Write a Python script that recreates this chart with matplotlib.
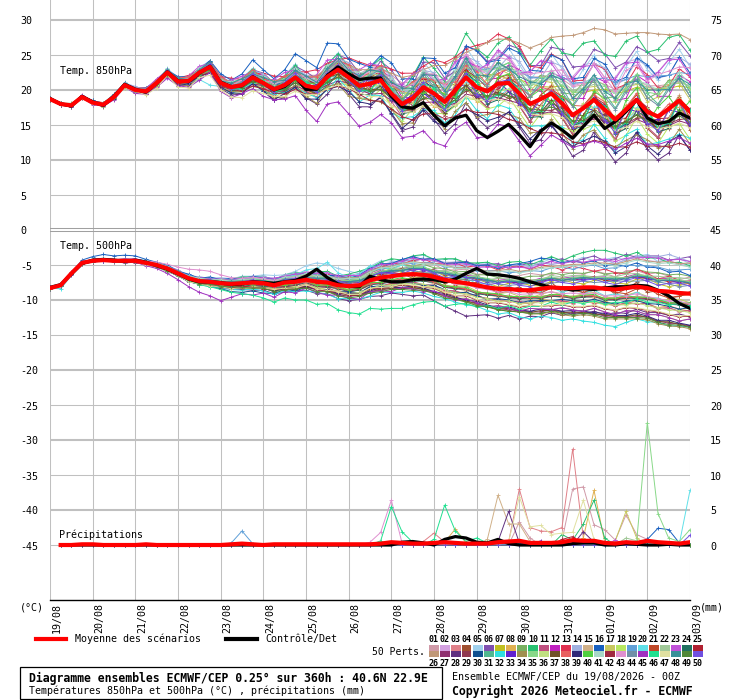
import numpy as np
import matplotlib.pyplot as plt
from matplotlib.lines import Line2D
from matplotlib.patches import Rectangle

plt.rcParams['font.family'] = ['DejaVu Sans Mono', 'DejaVu Sans']

# --- données lues sur le diagramme : pas de 6 h, du 19/08 00Z au 03/09 00Z ---
hours = np.arange(0, 361, 6)
days = ['19/08', '20/08', '21/08', '22/08', '23/08', '24/08', '25/08', '26/08',
        '27/08', '28/08', '29/08', '30/08', '31/08', '01/09', '02/09', '03/09']

t850_mean = [18.7, 18.0, 17.8, 19.0, 18.2, 17.9, 19.0, 20.7, 20.0, 19.8,
             21.0, 22.5, 21.2, 21.3, 22.5, 23.3, 21.0, 20.4, 20.7, 21.8,
             21.0, 20.1, 20.7, 21.8, 20.6, 20.3, 21.9, 22.9, 21.8, 20.6,
             20.9, 21.4, 19.5, 18.0, 18.8, 20.4, 19.5, 18.3, 20.0, 21.8,
             20.4, 19.8, 20.9, 21.0, 19.5, 18.0, 18.7, 19.5, 18.1, 16.4,
             17.4, 18.6, 17.2, 15.8, 17.2, 18.6, 16.9, 16.2, 17.3, 18.5, 16.9]
t850_ctrl = [18.8, 18.0, 17.7, 19.1, 18.3, 17.8, 19.1, 20.8, 20.1, 19.7,
             21.0, 22.6, 21.3, 21.2, 22.4, 23.4, 21.1, 20.5, 20.6, 21.9,
             21.0, 20.0, 20.5, 21.8, 20.1, 20.1, 22.1, 23.3, 22.3, 21.5,
             21.7, 21.7, 19.1, 17.6, 17.4, 18.2, 16.4, 14.9, 16.0, 16.4,
             14.2, 13.2, 14.1, 15.1, 13.6, 11.9, 14.1, 15.3, 14.3, 13.1,
             14.8, 16.4, 14.5, 15.5, 16.9, 18.6, 16.0, 15.2, 15.5, 16.7, 16.0]
t500_mean = [-8.3, -7.9, -6.2, -4.7, -4.4, -4.3, -4.4, -4.4, -4.4, -4.7,
             -5.0, -5.5, -6.2, -6.9, -7.3, -7.4, -7.6, -7.7, -7.6, -7.5,
             -7.6, -7.9, -7.5, -7.4, -7.1, -7.4, -7.5, -7.9, -8.0, -7.9,
             -7.2, -6.8, -6.6, -6.4, -6.3, -6.4, -6.7, -7.1, -7.4, -7.6,
             -7.9, -8.2, -8.4, -8.4, -8.6, -8.6, -8.4, -8.2, -8.3, -8.3,
             -8.2, -8.2, -8.4, -8.5, -8.3, -8.1, -8.3, -8.7, -8.8, -9.0, -9.1]
t500_ctrl = [-8.2, -7.8, -6.3, -4.8, -4.3, -4.2, -4.3, -4.5, -4.3, -4.6,
             -5.1, -5.6, -6.3, -7.0, -7.4, -7.4, -7.5, -7.8, -7.7, -7.4,
             -7.5, -7.6, -7.4, -7.2, -6.6, -5.6, -6.8, -7.7, -8.1, -8.1,
             -6.6, -7.1, -7.4, -7.4, -7.1, -7.0, -7.1, -7.4, -7.0, -6.2,
             -5.5, -6.3, -6.4, -6.6, -6.9, -7.4, -7.8, -8.2, -8.3, -8.6,
             -8.4, -8.5, -8.3, -8.1, -8.1, -7.9, -8.0, -8.6, -9.4, -10.5, -11.2]

# précipitations (mm), à partir de +6h
rr_mean = [0.0, 0.0, 0.1, 0.1, 0.0, 0.0, 0.0, 0.0, 0.1, 0.0,
           0.0, 0.0, 0.0, 0.0, 0.0, 0.0, 0.1, 0.2, 0.1, 0.0,
           0.1, 0.1, 0.1, 0.1, 0.1, 0.1, 0.1, 0.1, 0.1, 0.1,
           0.2, 0.4, 0.3, 0.2, 0.2, 0.3, 0.4, 0.3, 0.2, 0.2,
           0.2, 0.4, 0.5, 0.6, 0.3, 0.3, 0.3, 0.4, 0.7, 0.6,
           0.6, 0.3, 0.2, 0.4, 0.3, 0.6, 0.4, 0.3, 0.2, 0.4]
rr_ctrl = [0.0, 0.0, 0.0, 0.0, 0.0, 0.0, 0.0, 0.0, 0.0, 0.0,
           0.0, 0.0, 0.0, 0.0, 0.0, 0.0, 0.0, 0.0, 0.0, 0.0,
           0.0, 0.0, 0.0, 0.0, 0.0, 0.0, 0.0, 0.0, 0.0, 0.0,
           0.0, 0.0, 0.4, 0.5, 0.3, 0.0, 0.8, 1.2, 1.0, 0.4,
           0.3, 0.8, 0.2, 0.0, 0.0, 0.0, 0.0, 0.0, 0.2, 0.3,
           0.3, 0.0, 0.0, 0.2, 0.1, 0.0, 0.0, 0.1, 0.0, 0.0]

# pluies des perturbations : membre -> {pas de 6h: mm}, 0 ailleurs
rr_members = {
    1: {44: 3.3, 45: 1.0, 48: 0.6, 49: 8.0, 50: 8.3, 51: 2.9, 52: 2.2, 53: 0.7, 54: 4.3, 55: 1.5, 56: 0.8},
    3: {35: 0.5, 36: 1.7, 37: 0.4, 43: 0.5, 44: 8.0, 45: 2.5, 46: 2.0, 47: 1.9, 48: 2.5, 49: 13.7, 50: 1.0},
    6: {56: 0.9},
    8: {37: 0.4, 38: 2.3, 39: 0.3, 50: 1.0, 51: 7.8, 52: 0.5},
    10: {48: 1.5, 49: 0.7, 50: 3.0, 51: 6.4, 52: 1.0},
    12: {52: 0.5},
    15: {41: 0.8, 42: 7.1, 43: 3.0, 44: 3.0, 45: 0.5},
    16: {56: 0.8, 57: 2.4, 58: 2.2, 59: 0.3},
    17: {53: 0.6, 54: 4.8, 55: 1.0},
    19: {17: 0.3, 18: 2.0, 19: 0.2},
    20: {59: 0.2, 60: 7.8},
    22: {54: 1.0, 55: 0.6},
    23: {53: 0.7},
    25: {48: 0.8, 49: 1.2},
    28: {42: 0.5, 43: 4.8, 44: 0.3, 50: 1.9, 51: 0.4},
    33: {46: 0.6},
    35: {55: 0.5, 56: 17.5, 57: 4.5, 58: 1.0, 59: 0.5, 60: 2.2},
    40: {41: 0.4},
    43: {30: 0.4, 31: 1.8, 32: 6.4, 33: 0.3},
    46: {31: 0.6, 32: 5.5, 33: 1.9, 34: 0.4, 36: 0.8, 37: 5.7, 38: 2.0, 39: 0.5, 40: 1.0, 41: 0.3},
    47: {43: 0.5, 44: 6.9, 45: 2.6, 46: 2.8, 47: 1.5, 48: 1.7, 49: 1.8, 50: 6.4, 51: 0.8, 52: 0.3},
    50: {60: 1.4},
}

member_colors = ['#d09aa8', '#d4a0e0', '#e08088', '#a05030', '#a0d0ec', '#8050b0', '#c0c020', '#e0b050', '#78b060', '#28c070',
                 '#c05080', '#c020c0', '#e03050', '#a0b0e0', '#d0b088', '#1860c0', '#c8c860', '#b8e860', '#60a0d8', '#60e0e8',
                 '#c04828', '#a0c898', '#c050d8', '#207060', '#b02030',
                 '#c09878', '#903070', '#603080', '#903850', '#105090', '#50b890', '#30e0e0', '#6020d0', '#a09050', '#88d888',
                 '#c0e080', '#705028', '#e86060', '#302878', '#50d040', '#a8d8c8', '#a02840', '#e090d0', '#7090a8', '#a030c0',
                 '#20e090', '#e0e0a0', '#389098', '#508838', '#7050e0']

# écart de chaque perturbation (01..50) à la moyenne, en °C
t850_offsets = """
0.1 0.0 -0.1 0.2 0.1 0.0 0.2 0.3 0.2 0.1 | 0.4 0.3 0.2 0.5 0.4 0.2 0.6 0.8 0.5 0.9 | 1.1 0.7 1.2 0.9 1.5 1.8 1.2 1.6 2.1 1.7 | 2.2 1.8 2.6 3.0 2.4 1.9 2.8 3.3 2.6 2.0 | 2.9 3.4 2.7 2.2 3.1 3.8 3.2 2.6 3.5 4.1 | 3.3 2.8 3.6 4.3 3.4 2.9 3.7 4.4 3.5 2.8 3.6
0.0 0.1 0.1 -0.1 0.2 0.1 0.3 0.2 0.4 0.3 | 0.2 0.5 0.3 0.6 0.4 0.7 0.5 0.9 1.2 0.8 | 0.6 1.0 1.4 1.1 0.7 1.3 1.9 1.5 0.9 1.6 | 2.3 1.9 1.4 2.6 3.3 2.7 2.1 3.0 3.8 3.2 | 2.6 3.7 4.5 3.9 3.2 4.6 5.4 4.7 4.0 5.5 | 6.2 5.3 4.6 6.0 6.8 5.8 5.0 6.4 7.1 6.2 5.5
-0.1 0.0 0.1 0.0 -0.2 -0.1 0.0 -0.3 -0.1 0.1 | -0.2 -0.4 0.0 -0.3 -0.5 -0.2 -0.6 -0.3 0.1 -0.4 | -0.7 -0.2 -0.9 -0.5 0.2 -0.6 -1.1 -0.4 0.3 -0.8 | -1.3 -0.5 0.4 -0.9 -1.6 -0.7 0.2 -1.2 -2.0 -0.9 | 0.1 -1.4 -2.2 -1.0 0.3 -1.6 -2.4 -1.1 0.2 -1.8 | -2.5 -1.2 0.0 -1.9 -2.7 -1.4 -0.3 -2.1 -2.9 -1.6 -0.5
0.2 0.1 0.0 0.1 0.0 0.2 -0.1 0.1 0.3 0.0 | -0.2 0.1 -0.3 0.2 0.0 -0.4 0.3 -0.5 0.1 -0.6 | 0.2 -0.8 -0.2 0.4 -1.0 -0.3 0.5 -1.2 -0.4 0.6 | -1.5 -0.6 0.8 -0.9 -1.8 0.5 -0.7 -2.0 -0.2 0.9 | -1.4 -2.3 -0.5 0.7 -1.8 -2.6 -0.8 0.4 -2.1 -2.8 | -1.0 0.2 -2.2 -3.0 -1.3 0.1 -2.4 -3.1 -1.5 -0.2 -2.6
0.0 -0.1 0.0 0.2 0.1 -0.1 0.1 0.4 0.2 0.0 | 0.3 0.6 0.4 0.2 0.7 0.9 0.5 0.3 1.0 1.3 | 0.8 0.5 1.4 1.9 1.2 0.8 1.7 2.4 1.6 1.1 | 2.2 3.0 2.1 1.5 2.8 3.6 2.7 2.0 3.3 4.3 | 3.4 2.6 4.0 5.0 4.1 3.3 4.8 5.7 4.9 4.0 | 5.6 6.4 5.5 4.7 6.1 6.9 6.0 5.2 6.6 7.3 6.4
0.1 0.2 0.0 0.1 0.3 0.1 0.2 0.0 0.3 0.2 | 0.5 0.2 0.6 0.4 0.1 0.7 1.0 0.6 0.3 1.1 | 1.4 0.9 0.5 1.6 2.0 1.3 0.8 2.1 2.6 1.8 | 1.2 2.7 3.4 2.5 1.9 3.6 4.4 3.4 2.7 4.5 | 5.3 4.3 3.6 5.4 6.4 5.5 4.8 6.6 7.7 6.9 | 6.0 7.2 8.0 7.4 6.8 7.6 8.5 8.0 7.2 8.3 8.0
-0.1 0.1 0.2 0.0 0.1 0.3 0.1 -0.1 0.2 0.4 | 0.1 -0.2 0.3 0.5 0.0 -0.3 0.4 0.7 0.2 -0.4 | 0.5 0.9 0.1 -0.6 0.6 1.1 0.3 -0.8 0.8 1.4 | 0.4 -1.0 1.0 1.7 0.6 -0.7 1.3 2.0 0.9 -0.2 | 1.6 2.4 1.3 0.5 2.0 2.9 1.8 0.9 2.5 3.3 | 2.2 1.4 2.9 3.7 2.6 1.8 3.2 4.0 2.9 2.1 3.4
0.0 0.0 -0.1 -0.2 0.0 0.1 -0.1 -0.2 -0.4 -0.1 | 0.0 -0.3 -0.5 -0.2 0.1 -0.4 -0.7 -0.3 0.0 -0.6 | -0.9 -0.4 0.1 -0.7 -1.1 -0.5 0.2 -0.9 -1.4 -0.6 | 0.1 -1.1 -1.7 -0.8 0.3 -1.3 -1.9 -0.9 0.2 -1.5 | -2.1 -1.0 0.4 -1.2 -1.8 -0.6 0.5 -1.4 -2.0 -0.8 | 0.6 -1.1 -1.7 -0.5 0.7 -1.3 -1.9 -0.7 0.4 -1.0 -1.6
0.2 0.1 0.3 0.1 0.0 0.2 0.4 0.1 0.0 0.3 | 0.5 0.2 0.0 0.4 0.6 0.3 0.1 0.7 0.9 0.4 | 0.2 1.0 1.3 0.7 0.3 1.2 1.6 0.9 0.4 1.5 | 2.0 1.2 0.6 1.8 2.4 1.5 0.8 2.1 2.7 1.7 | 1.0 2.4 3.1 2.0 1.2 2.7 3.4 2.3 1.5 3.0 | 3.6 2.5 1.7 3.2 3.9 2.8 1.9 3.4 4.1 3.0 2.2
0.0 0.1 0.2 0.1 -0.1 0.0 0.2 0.3 0.1 0.0 | 0.3 0.5 0.2 0.1 0.5 0.8 0.4 0.2 0.9 1.2 | 0.7 0.4 1.3 1.7 1.0 0.6 1.8 2.3 1.5 1.0 | 2.4 3.1 2.2 1.6 3.2 4.3 3.6 2.9 4.8 6.3 | 5.5 4.9 5.8 6.6 6.0 5.5 6.9 7.8 7.2 8.6 | 9.3 8.4 7.8 9.0 9.8 9.1 8.5 9.6 10.2 9.4 8.8
-0.2 -0.1 0.0 0.1 -0.1 -0.3 0.0 0.2 -0.2 -0.4 | 0.1 0.3 -0.3 -0.5 0.2 0.4 -0.4 -0.7 0.3 0.6 | -0.6 -1.0 0.2 0.8 -0.8 -1.3 0.1 1.0 -1.0 -1.6 | 0.0 1.2 -1.1 -1.8 -0.2 1.0 -1.3 -2.0 -0.4 0.8 | -1.5 -2.3 -0.6 0.5 -1.7 -2.5 -0.8 0.3 -1.9 -2.6 | -1.0 0.2 -2.1 -2.8 -1.2 0.0 -2.2 -2.9 -1.3 -0.1 -2.0
0.1 0.0 0.1 0.3 0.2 0.0 -0.1 0.2 0.4 0.1 | -0.1 0.3 0.6 0.2 -0.2 0.5 0.8 0.3 -0.3 0.7 | 1.1 0.4 -0.4 0.9 1.4 0.5 -0.5 1.2 1.8 0.7 | -0.3 1.5 2.2 1.0 0.0 1.9 2.6 1.3 0.4 2.3 | 3.0 1.7 0.8 2.6 3.4 2.1 1.1 3.0 3.7 2.4 | 1.4 3.3 4.0 2.7 1.6 3.5 4.2 2.9 1.8 3.6 4.3
0.0 0.2 0.1 0.0 0.2 0.3 0.1 0.0 0.3 0.5 | 0.2 0.1 0.5 0.8 0.4 0.2 0.9 1.3 0.8 0.5 | 1.4 1.9 1.2 0.8 2.0 2.6 1.9 1.4 2.8 3.4 | 2.6 2.0 3.5 4.4 3.6 3.0 4.8 5.6 4.7 4.1 | 6.0 7.0 7.1 6.3 6.8 5.4 4.5 5.6 6.2 4.9 | 4.0 5.1 5.8 4.4 3.6 4.7 5.3 4.1 3.3 4.5 5.0
0.1 0.0 0.0 0.2 0.3 0.1 0.0 0.3 0.5 0.2 | 0.1 0.4 0.7 0.3 0.1 0.6 0.9 0.5 0.2 1.0 | 1.3 0.7 0.3 1.2 1.6 1.0 0.5 1.6 2.1 1.4 | 0.8 1.9 2.5 1.7 1.1 2.4 3.0 2.1 1.5 3.0 | 3.7 2.9 2.2 3.8 4.6 3.7 3.0 4.5 5.3 4.4 | 3.7 5.2 6.0 5.0 4.3 5.8 6.5 5.5 4.8 6.2 6.8
-0.1 0.0 0.0 -0.1 0.1 0.0 -0.2 -0.1 0.1 -0.2 | -0.3 0.0 -0.1 -0.4 0.1 0.2 -0.5 -0.2 0.3 -0.4 | -0.6 0.2 0.4 -0.7 -0.3 0.5 -0.8 -1.2 0.3 -0.5 | -1.0 0.6 -0.4 -1.5 0.2 0.8 -1.2 -1.8 0.4 0.9 | -1.0 -1.6 0.3 1.0 -0.8 -1.4 0.5 1.2 -0.9 -1.8 | 0.2 1.1 -1.0 -1.9 0.0 1.0 -1.2 -2.0 -0.2 0.8 -1.1
0.1 0.2 0.0 0.1 0.3 0.2 0.4 0.3 0.2 0.5 | 0.4 0.3 0.7 0.6 0.4 0.9 1.3 1.0 1.6 2.5 | 1.9 1.5 2.2 3.4 3.6 2.9 4.8 3.7 2.6 3.2 | 2.4 3.5 4.4 3.6 2.8 4.2 5.0 4.1 3.2 4.5 | 5.2 4.1 3.4 5.0 5.8 4.8 4.0 5.5 6.2 5.2 | 4.4 5.9 6.5 5.4 4.6 6.0 6.7 5.6 4.8 6.2 5.5
0.0 -0.1 0.1 0.0 -0.2 -0.1 0.1 0.0 -0.2 0.0 | 0.2 0.0 -0.3 0.1 0.3 -0.1 -0.4 0.2 0.5 0.0 | -0.5 0.3 0.7 0.1 -0.4 0.5 0.9 0.3 -0.3 0.8 | 1.2 0.5 -0.2 1.0 1.5 0.7 0.0 1.3 1.9 1.0 | 0.2 1.6 2.2 1.3 0.5 1.9 2.6 1.6 0.8 2.2 | 2.9 1.9 1.1 2.5 3.2 2.2 1.4 2.8 3.5 2.5 1.7
0.0 0.0 -0.2 -0.1 0.0 -0.3 -0.2 0.0 -0.4 -0.3 | -0.1 -0.5 -0.4 -0.1 -0.6 -0.8 -0.3 -0.9 -1.1 -0.5 | -1.0 -1.3 -0.7 -1.2 -1.6 -0.9 -1.5 -1.9 -1.1 -1.7 | -2.2 -1.3 -1.9 -2.5 -1.5 -2.1 -2.8 -1.7 -2.3 -3.0 | -1.8 -2.5 -3.2 -2.0 -2.7 -3.4 -2.1 -2.9 -3.5 -2.2 | -3.0 -3.6 -2.4 -3.1 -3.7 -2.5 -3.2 -3.8 -2.6 -3.3 -3.9
0.1 0.1 0.0 -0.1 0.1 0.2 0.0 -0.2 0.1 0.3 | 0.0 -0.3 0.2 0.4 0.1 -0.4 0.3 0.6 0.2 -0.3 | 0.5 0.8 0.3 -0.2 0.7 1.1 0.6 0.1 1.0 1.5 | 0.9 0.4 1.4 2.0 1.3 0.7 1.9 2.6 1.8 1.2 | 2.5 3.2 2.4 1.7 3.1 3.9 3.0 2.3 3.8 4.6 | 3.7 3.0 4.5 5.3 4.3 3.5 5.0 5.8 4.8 4.0 5.4
0.0 0.1 0.0 -0.1 0.0 0.1 -0.1 -0.2 0.0 0.1 | -0.2 -0.4 -0.3 -0.6 -1.0 -2.6 -0.5 -0.2 -0.6 -0.3 | 0.1 -0.5 -0.8 -0.2 0.3 -0.6 -1.0 -0.4 0.2 -0.8 | -1.2 -0.5 0.3 -0.9 -1.5 -0.6 0.4 -1.1 -1.7 -0.7 | 0.2 -1.3 -1.9 -0.8 0.3 -1.5 -2.0 -0.9 0.4 -1.6 | -2.2 -1.0 0.3 -1.7 -2.3 -1.1 0.1 -1.8 -2.4 -1.2 0.0
-0.1 -0.2 0.0 0.1 -0.1 -0.2 0.1 0.2 0.0 -0.2 | 0.2 0.3 -0.1 -0.3 0.3 0.5 0.0 -0.4 0.4 0.7 | 0.1 -0.5 0.6 0.9 0.2 -0.6 0.8 1.1 0.3 -0.7 | 0.9 1.3 0.2 -0.9 1.0 1.4 0.1 -1.1 0.9 1.3 | 0.0 -1.2 0.8 1.2 -0.2 -1.4 0.6 1.0 -0.4 -1.6 | 0.4 0.9 -0.6 -1.8 0.2 0.7 -0.8 -2.0 0.0 0.5 -1.0
0.0 0.1 0.2 0.0 0.1 0.2 0.3 0.1 0.2 0.4 | 0.3 0.1 0.4 0.6 0.3 0.2 0.6 0.8 0.5 0.3 | 0.9 1.1 0.7 0.4 1.2 1.5 1.0 0.6 1.5 1.9 | 1.3 0.8 1.8 2.3 1.6 1.1 2.2 2.7 2.0 1.4 | 2.5 3.0 2.3 1.7 2.8 3.3 2.6 2.0 3.1 3.6 | 2.9 2.2 3.3 3.8 3.1 2.4 3.5 4.0 3.2 2.6 3.7
0.2 0.1 0.0 0.2 0.1 0.0 0.3 0.2 0.1 0.4 | 0.6 0.3 0.2 0.7 0.9 0.5 0.3 1.0 1.3 0.8 | 0.5 1.4 1.8 1.1 0.7 1.9 2.4 1.5 1.0 2.3 | 2.9 2.0 1.4 2.8 3.5 2.5 1.8 3.3 4.1 3.0 | 2.3 3.9 4.8 3.6 2.9 4.6 5.5 4.3 3.5 5.2 | 6.0 4.9 4.1 5.8 6.6 5.4 4.6 6.3 7.0 5.9 5.1
0.0 -0.1 -0.1 0.0 0.1 -0.1 -0.2 0.0 0.1 -0.2 | -0.3 0.0 0.1 -0.3 -0.5 -0.1 0.0 -0.5 -0.7 -0.2 | 0.0 -0.7 -1.0 -0.4 -0.1 -0.9 -1.3 -0.6 -0.2 -1.2 | -1.6 -0.8 -0.3 -1.4 -1.9 -1.0 -0.4 -1.6 -2.1 -1.1 | -0.5 -1.8 -2.3 -1.3 -0.6 -1.9 -2.5 -1.4 -0.7 -2.0 | -2.6 -1.5 -0.8 -2.1 -2.7 -1.6 -0.9 -2.2 -2.8 -1.7 -1.0
0.1 0.0 0.1 0.2 0.0 0.1 0.0 0.2 0.3 0.1 | 0.0 0.3 0.4 0.1 -0.1 0.4 0.6 0.2 -0.2 0.5 | 0.8 0.3 -0.3 0.7 1.0 0.4 -0.5 0.9 1.3 0.5 | -0.6 1.1 1.5 0.6 -0.7 1.2 1.7 0.7 -0.8 1.0 | 1.4 0.5 -0.9 0.8 1.2 0.3 -1.0 0.6 1.0 0.1 | -1.1 0.4 0.8 -0.1 -1.2 0.2 0.6 -0.3 -1.3 0.0 0.4
0.0 0.0 0.1 0.1 0.0 0.2 0.1 0.0 0.2 0.3 | 0.1 0.0 0.4 0.5 0.2 0.1 0.6 0.8 0.5 0.3 | 0.9 1.2 0.8 0.5 1.3 1.7 1.2 0.8 1.8 2.3 | 2.0 1.6 2.9 3.8 3.3 2.5 4.0 5.2 4.4 3.6 | 5.6 7.0 6.4 6.2 7.2 8.0 7.9 8.0 9.6 11.4 | 10.8 10.2 11.4 12.2 10.9 9.6 11.3 11.8 10.6 9.5 10.3
-0.1 0.0 -0.1 -0.2 -0.1 0.0 -0.2 -0.3 -0.1 0.0 | -0.3 -0.5 -0.2 0.0 -0.4 -0.6 -0.3 -0.1 -0.7 -0.9 | -0.4 -0.2 -0.9 -1.2 -0.6 -0.3 -1.2 -1.6 -0.8 -0.4 | -1.5 -1.9 -1.0 -0.5 -1.7 -2.2 -1.2 -0.6 -1.9 -2.4 | -1.3 -0.7 -2.0 -2.5 -1.4 -0.8 -2.1 -2.6 -1.5 -0.9 | -2.2 -2.7 -1.6 -1.0 -2.3 -2.8 -1.7 -1.1 -2.4 -2.9 -1.8
0.0 -0.1 -0.2 0.0 -0.1 -0.2 -0.3 -0.1 -0.2 -0.4 | -0.5 -0.2 -0.4 -0.7 -0.8 -0.4 -0.8 -1.1 -1.3 -0.7 | -1.2 -1.6 -1.8 -1.1 -1.7 -2.3 -2.5 -1.6 -2.4 -3.0 | -3.3 -2.3 -3.0 -3.8 -4.1 -3.0 -3.7 -4.5 -4.8 -3.6 | -4.4 -5.2 -5.4 -4.1 -4.8 -5.6 -5.8 -4.4 -5.1 -5.9 | -6.0 -4.6 -5.3 -6.1 -6.2 -4.8 -5.4 -6.2 -6.3 -4.9 -5.5
0.1 0.0 0.0 -0.1 0.0 0.1 0.0 -0.1 0.1 0.2 | 0.0 -0.2 0.1 0.3 -0.1 -0.3 0.2 0.5 -0.2 -0.5 | 0.3 0.6 -0.4 -0.8 0.4 0.8 -0.6 -1.1 0.5 0.9 | -0.8 -1.4 0.3 0.7 -1.0 -1.7 0.1 0.5 -1.2 -2.0 | -0.1 0.3 -1.4 -2.2 -0.3 0.1 -1.6 -2.4 -0.5 -0.1 | -1.8 -2.5 -0.7 -0.3 -2.0 -2.6 -0.9 -0.5 -2.1 -2.7 -1.0
0.0 0.1 0.0 0.0 0.2 0.1 -0.1 0.0 0.2 0.0 | -0.2 0.1 0.3 -0.1 -0.3 0.2 0.4 -0.2 -0.4 0.3 | 0.5 -0.3 -0.6 0.4 0.6 -0.4 -0.8 0.5 0.7 -0.6 | -1.0 0.6 0.8 -0.8 -1.2 0.7 0.9 -1.0 -1.4 0.6 | 0.8 -1.2 -1.6 0.5 0.7 -1.4 -1.8 0.4 0.6 -1.5 | -1.9 0.3 0.5 -1.6 -2.0 0.2 0.4 -1.7 -2.1 0.1 0.3
0.1 0.2 0.1 0.0 0.1 0.2 0.1 0.3 0.1 0.0 | 0.2 0.4 0.2 0.0 0.4 0.6 0.3 0.1 0.6 0.9 | 0.5 0.2 0.9 1.2 0.7 0.3 1.1 1.5 0.9 0.4 | 1.4 1.9 1.2 0.6 1.7 2.2 1.4 0.8 2.0 2.6 | 1.7 1.0 2.3 2.9 2.0 1.2 2.5 3.1 2.2 1.4 | 2.7 3.3 2.4 1.6 2.9 3.5 2.6 1.8 3.1 3.7 2.8
0.0 0.0 -0.1 0.0 -0.1 -0.2 0.0 -0.2 -0.3 -0.1 | -0.3 -0.5 -0.2 -0.4 -0.7 -0.4 -0.6 -0.9 -0.5 -0.8 | -1.2 -0.7 -1.1 -1.5 -1.0 -1.4 -1.9 -1.2 -1.8 -2.3 | -1.6 -2.2 -2.8 -2.0 -2.6 -3.2 -2.4 -3.0 -3.6 -2.7 | -3.3 -3.9 -3.0 -3.6 -4.2 -3.2 -3.8 -4.4 -3.4 -4.0 | -4.5 -3.5 -4.1 -4.6 -3.6 -4.2 -4.7 -3.7 -4.3 -4.8 -3.8
0.1 0.0 0.0 0.1 -0.1 0.0 0.2 0.0 -0.1 0.1 | 0.3 0.0 -0.2 0.2 0.4 -0.1 -0.3 0.3 0.5 -0.2 | -0.4 0.4 0.6 -0.3 -0.6 0.5 0.7 -0.4 -0.8 0.4 | 0.6 -0.6 -1.0 0.3 0.5 -0.8 -1.2 0.2 0.4 -1.0 | -1.4 0.1 0.3 -1.2 -1.6 0.0 0.2 -1.4 -1.8 -0.1 | 0.1 -1.5 -1.9 -0.2 0.0 -1.6 -2.0 -0.3 -0.1 -1.7 -2.1
0.0 -0.1 0.0 -0.2 -0.1 0.0 -0.2 -0.4 -0.1 -0.3 | -0.5 -0.2 -0.4 -0.7 -0.4 -0.6 -1.0 -0.6 -0.9 -1.3 | -0.8 -1.2 -1.7 -1.1 -1.5 -2.2 -1.4 -2.0 -2.7 -1.8 | -2.4 -3.1 -2.2 -2.8 -3.5 -2.6 -3.2 -3.9 -3.0 -3.6 | -4.2 -3.3 -3.9 -4.5 -3.5 -4.1 -4.7 -3.7 -4.2 -4.8 | -3.8 -4.3 -4.9 -3.9 -4.4 -5.0 -4.0 -4.5 -5.1 -4.1 -4.6
0.0 0.1 0.0 0.1 0.2 0.0 0.1 0.2 0.0 0.1 | 0.3 0.1 0.2 0.4 0.2 0.3 0.6 0.3 0.5 0.8 | 0.4 0.6 1.0 0.6 0.8 1.3 0.8 1.1 1.6 1.0 | 1.3 1.9 1.2 1.6 2.2 1.4 1.8 2.5 1.6 2.0 | 2.7 1.8 2.2 2.9 2.0 2.4 3.1 2.2 2.6 3.3 | 2.4 2.8 3.5 2.6 3.0 3.7 2.8 3.2 3.9 3.0 3.4
-0.1 0.0 0.1 -0.1 0.0 0.1 -0.1 0.1 0.2 -0.1 | 0.1 0.3 -0.1 0.2 0.4 -0.2 0.1 0.5 -0.3 -0.1 | 0.5 -0.4 -0.2 0.6 -0.5 -0.3 0.7 -0.6 -0.4 0.8 | -0.7 -0.5 0.9 -0.8 -0.6 1.0 -0.9 -0.7 1.1 -1.0 | -0.8 1.0 -1.1 -0.9 0.9 -1.2 -1.0 0.8 -1.3 -1.1 | 0.7 -1.4 -1.2 0.6 -1.5 -1.3 0.5 -1.6 -1.4 0.4 -1.5
0.0 0.0 0.1 0.0 0.0 -0.1 0.1 0.0 0.0 -0.2 | 0.1 0.0 -0.2 -0.3 0.0 -0.2 -0.4 0.1 -0.3 -0.5 | 0.0 -0.4 -0.7 -0.1 -0.5 -0.9 -0.2 -0.6 -1.1 -0.3 | -0.8 -1.3 -0.4 -0.9 -1.5 -0.5 -1.0 -1.6 -0.6 -1.1 | -1.7 -0.7 -1.2 -1.8 -0.8 -1.3 -1.9 -0.9 -1.4 -2.0 | -1.0 -1.5 -2.1 -1.1 -1.6 -2.2 -1.2 -1.7 -2.3 -1.3 -1.8
0.1 0.1 0.0 0.2 0.1 0.1 0.3 0.2 0.1 0.3 | 0.4 0.2 0.5 0.6 0.3 0.7 0.9 0.5 0.8 1.1 | 0.6 1.0 1.3 0.7 1.2 1.6 0.9 1.4 1.8 1.0 | 1.6 2.1 1.2 1.8 2.4 1.3 1.9 2.5 1.2 1.7 | 2.2 1.0 1.5 2.0 0.8 1.2 1.7 0.5 0.9 1.4 | 0.3 0.7 1.1 0.0 0.4 0.9 -0.2 0.2 0.7 -0.4 0.0
-0.1 0.0 -0.1 -0.2 0.0 -0.1 -0.3 -0.1 -0.2 -0.4 | -0.2 -0.3 -0.6 -0.4 -0.5 -0.9 -0.6 -0.8 -1.2 -0.9 | -1.1 -1.5 -1.2 -1.4 -1.9 -1.6 -1.8 -2.4 -2.0 -2.3 | -2.9 -2.5 -2.8 -3.5 -3.0 -3.3 -4.0 -3.5 -3.8 -4.5 | -3.9 -4.2 -4.8 -4.2 -4.5 -5.0 -4.3 -4.6 -5.1 -4.4 | -4.7 -5.2 -4.5 -4.8 -5.3 -4.6 -4.9 -5.4 -4.7 -5.0 -5.5
0.0 0.1 0.1 0.0 0.1 0.0 0.0 0.1 -0.1 0.0 | 0.2 -0.1 0.1 0.3 -0.2 0.0 0.4 -0.3 0.1 0.5 | -0.4 0.2 0.6 -0.5 0.3 0.7 -0.6 0.4 0.8 -0.7 | 0.5 0.9 -0.8 0.6 1.0 -0.9 0.7 1.1 -1.0 0.8 | 1.2 -1.1 0.9 1.3 -1.2 1.0 1.4 -1.3 1.1 1.5 | -1.4 1.2 1.6 -1.5 1.3 1.7 -1.6 1.4 1.8 -1.7 1.5
0.1 0.0 0.1 0.1 0.0 0.2 0.1 0.1 0.3 0.2 | 0.1 0.4 0.3 0.2 0.6 0.5 0.3 0.8 0.7 0.4 | 1.0 0.9 0.5 1.3 1.1 0.7 1.6 1.4 0.9 1.9 | 1.7 1.1 2.2 2.0 1.3 2.5 2.2 1.5 2.8 2.5 | 1.7 3.0 2.7 1.9 3.2 2.9 2.1 3.4 3.1 2.3 | 3.6 3.3 2.5 3.8 3.5 2.7 4.0 3.7 2.9 4.1 3.8
0.0 -0.1 0.0 -0.1 -0.2 0.0 -0.1 -0.3 -0.2 0.0 | -0.3 -0.5 -0.3 -0.1 -0.5 -0.8 -0.5 -0.3 -0.9 -1.2 | -0.8 -0.5 -1.3 -1.7 -1.2 -0.8 -1.8 -2.3 -1.6 -1.2 | -2.4 -3.0 -2.2 -1.8 -3.1 -3.8 -2.9 -2.4 -3.8 -4.6 | -3.6 -3.0 -4.4 -5.2 -4.1 -3.5 -4.8 -5.6 -4.5 -3.8 | -5.1 -5.8 -4.7 -4.0 -5.3 -6.0 -4.9 -4.2 -5.4 -6.1 -5.0
0.0 0.1 0.0 0.2 0.1 0.0 0.2 0.1 0.0 0.3 | 0.2 0.1 0.4 0.3 0.2 0.5 0.4 0.3 0.7 0.5 | 0.4 0.9 0.7 0.5 1.2 1.0 0.7 1.5 1.3 1.0 | 1.9 1.6 1.3 2.3 2.0 1.7 2.8 2.4 2.0 3.3 | 2.9 2.4 3.8 3.3 2.8 4.3 3.8 3.2 4.8 4.2 | 3.6 5.2 4.6 4.0 5.6 5.0 4.4 6.0 5.4 4.8 6.3
-0.1 0.0 0.0 0.1 0.0 -0.1 0.1 0.2 0.0 -0.1 | 0.2 0.3 0.0 -0.2 0.3 0.5 0.1 -0.2 0.5 0.7 | 0.2 -0.1 0.7 1.0 0.4 0.0 0.9 1.3 0.6 0.2 | 1.2 1.6 0.8 0.4 1.5 1.9 1.0 0.6 1.7 2.2 | 1.2 0.8 1.9 2.4 1.4 1.0 2.1 2.6 1.6 1.2 | 2.3 2.8 1.8 1.4 2.5 3.0 2.0 1.6 2.7 3.1 2.2
0.0 -0.1 -0.2 -0.1 -0.3 -0.2 -0.4 -0.3 -0.5 -0.4 | -0.6 -0.8 -0.6 -0.9 -1.1 -0.8 -1.2 -1.5 -1.2 -1.6 | -1.9 -1.5 -2.0 -2.6 -3.5 -4.8 -3.9 -4.6 -5.2 -5.8 | -5.5 -4.9 -4.2 -4.8 -5.4 -6.2 -7.0 -6.3 -5.6 -6.4 | -7.2 -6.5 -5.8 -6.2 -6.8 -7.4 -6.6 -5.9 -5.4 -4.6 | -5.2 -5.9 -5.0 -4.3 -4.8 -5.5 -4.6 -4.0 -4.6 -5.3 -4.5
0.1 0.0 -0.1 0.0 0.1 0.0 -0.1 0.0 0.1 -0.1 | -0.2 0.1 0.2 -0.2 -0.3 0.2 0.3 -0.3 -0.5 0.2 | 0.4 -0.4 -0.6 0.3 0.5 -0.5 -0.8 0.4 0.6 -0.7 | -1.0 0.4 0.7 -0.9 -1.2 0.5 0.8 -1.0 -1.4 0.4 | 0.7 -1.2 -1.6 0.3 0.6 -1.3 -1.7 0.2 0.5 -1.4 | -1.8 0.1 0.4 -1.5 -1.9 0.0 0.3 -1.6 -2.0 -0.1 0.2
0.0 0.0 0.1 -0.1 -0.2 0.0 -0.2 -0.4 -0.2 -0.5 | -0.7 -0.4 -0.8 -1.0 -0.7 -1.2 -1.0 -1.4 -1.8 -1.9 | -1.5 -1.0 -1.6 -2.0 -1.3 -0.9 -1.7 -2.2 -1.5 -1.0 | -1.8 -2.4 -1.6 -1.1 -2.0 -2.6 -1.7 -1.2 -2.1 -2.7 | -1.8 -1.3 -2.2 -2.8 -1.9 -1.4 -2.3 -2.9 -2.0 -1.5 | -2.4 -3.0 -2.1 -1.6 -2.5 -3.1 -2.2 -1.7 -2.6 -3.2 -2.3
0.0 0.1 0.1 0.2 0.0 0.1 0.2 0.0 0.2 0.3 | 0.1 0.3 0.5 0.2 0.4 0.7 0.3 0.6 0.9 0.5 | 0.8 1.1 0.7 1.0 1.4 0.8 1.2 1.7 1.0 1.4 | 2.0 1.2 1.6 2.3 1.4 1.8 2.6 1.6 2.0 2.8 | 1.8 2.2 3.0 2.0 2.4 3.2 2.2 2.6 3.4 2.4 | 2.8 3.6 2.6 3.0 3.7 2.7 3.1 3.8 2.8 3.2 3.9
0.0 0.0 -0.1 0.0 0.1 0.0 -0.1 -0.2 0.0 0.1 | -0.1 -0.3 -0.1 0.1 -0.2 -0.4 -0.2 0.0 -0.4 -0.6 | -0.3 -0.1 -0.6 -0.8 -0.4 -0.2 -0.8 -1.1 -0.6 -0.3 | -1.0 -1.3 -0.7 -0.4 -1.2 -1.5 -0.9 -0.5 -1.4 -1.7 | -1.0 -0.6 -1.5 -1.8 -1.1 -0.7 -1.6 -1.9 -1.2 -0.8 | -1.7 -2.0 -1.3 -0.9 -1.8 -2.1 -1.4 -1.0 -1.9 -2.2 -1.5
0.1 0.0 0.0 0.1 0.1 -0.1 0.0 0.2 0.1 -0.1 | 0.1 0.3 0.0 -0.2 0.2 0.4 -0.1 -0.3 0.3 0.5 | -0.2 -0.4 0.4 0.6 -0.3 -0.6 0.5 0.7 -0.4 -0.8 | 0.5 0.8 -0.6 -1.0 0.4 0.7 -0.8 -1.2 0.3 0.6 | -1.0 -1.4 0.2 0.5 -1.2 -1.6 0.1 0.4 -1.4 -1.8 | 0.0 0.3 -1.5 -1.9 -0.1 0.2 -1.6 -2.0 -0.2 0.1 -1.7
"""

t500_offsets = """
0.1 0.0 0.1 0.2 0.1 0.0 0.1 0.2 0.1 0.0 | 0.2 0.3 0.1 0.4 0.3 0.5 0.4 0.6 0.5 0.3 | 0.6 0.8 0.5 0.7 0.9 0.6 1.0 1.2 0.9 1.1 | 1.3 1.0 1.4 1.6 1.2 1.5 1.8 1.4 1.7 2.0 | 1.6 1.9 2.2 1.8 2.1 2.4 2.0 1.8 2.3 2.1 | 1.9 2.4 2.2 1.8 2.5 2.3 2.0 2.6 2.2 1.9 2.4
0.0 0.1 0.0 -0.1 0.1 0.2 0.0 0.1 0.2 0.3 | 0.1 0.3 0.5 0.2 0.6 0.4 0.7 0.5 0.9 0.6 | 1.0 0.7 1.1 0.8 1.3 0.9 1.2 1.5 1.1 1.4 | 1.8 1.4 1.9 2.2 1.7 2.3 2.6 2.1 2.7 3.0 | 2.5 3.1 3.4 2.9 3.5 3.2 3.8 3.3 3.6 4.0 | 3.5 3.9 4.3 3.7 4.1 4.5 3.9 4.2 4.6 4.0 4.4
-0.1 0.0 0.0 -0.2 0.0 -0.1 -0.2 0.0 -0.1 -0.3 | -0.2 -0.4 -0.2 -0.5 -0.3 -0.6 -0.4 -0.7 -0.5 -0.3 | -0.6 -0.8 -0.5 -0.9 -0.6 -1.0 -0.7 -1.1 -0.8 -1.2 | -0.9 -1.3 -1.0 -1.4 -1.1 -1.5 -1.2 -1.6 -1.3 -1.7 | -1.4 -1.8 -1.5 -1.9 -1.6 -2.0 -1.7 -2.1 -1.8 -2.2 | -1.9 -2.3 -2.0 -2.4 -2.1 -2.5 -2.2 -2.6 -2.3 -2.7 -2.4
0.1 0.2 0.0 0.1 -0.1 0.0 0.1 -0.1 0.0 0.2 | 0.0 -0.2 0.1 -0.3 0.0 0.2 -0.2 0.1 -0.4 -0.1 | 0.2 -0.3 0.0 0.4 -0.2 0.1 -0.5 -0.1 0.3 -0.4 | 0.0 0.5 -0.3 0.2 -0.6 -0.2 0.4 -0.5 0.1 0.6 | -0.4 0.2 -0.7 -0.3 0.5 -0.6 0.0 0.7 -0.5 0.1 | -0.8 -0.4 0.4 -0.7 -0.1 0.6 -0.6 0.0 -0.9 -0.5 0.3
0.0 0.1 0.1 0.0 0.2 0.1 0.2 0.3 0.2 0.4 | 0.3 0.5 0.4 0.3 0.6 0.5 0.8 0.7 1.0 0.9 | 1.2 1.4 1.1 1.5 2.0 2.7 2.6 2.4 2.1 1.7 | 2.0 2.4 2.2 1.8 2.5 2.8 2.4 2.9 3.2 2.7 | 3.1 3.5 3.0 3.4 3.8 3.3 3.7 4.1 3.6 3.9 | 4.3 3.8 4.2 4.6 4.0 4.4 4.8 4.2 4.5 4.9 4.3
0.1 0.0 0.2 0.1 0.0 0.2 0.1 0.3 0.2 0.1 | 0.3 0.2 0.4 0.3 0.5 0.4 0.3 0.6 0.5 0.7 | 0.6 0.9 0.8 0.6 1.0 0.9 1.2 1.0 1.4 1.3 | 1.6 1.4 1.8 2.1 1.9 2.3 2.6 2.4 2.8 3.1 | 2.9 3.3 3.6 3.2 3.5 3.9 3.4 3.8 4.2 3.7 | 4.1 4.5 4.0 4.4 4.8 4.2 4.6 5.0 4.5 4.9 5.3
-0.1 0.0 0.1 0.0 -0.1 0.1 0.0 -0.2 0.0 0.1 | -0.1 0.1 -0.2 0.2 0.0 -0.3 0.1 0.3 -0.1 0.2 | 0.4 0.1 -0.2 0.3 0.5 0.2 -0.1 0.4 0.6 0.3 | 0.0 0.5 0.8 0.4 0.1 0.6 0.9 0.5 0.2 0.7 | 1.0 0.6 0.3 0.8 1.1 0.7 0.4 0.9 1.2 0.8 | 0.5 1.0 1.3 0.9 0.6 1.1 1.4 1.0 0.7 1.2 1.5
0.0 -0.1 0.0 0.1 0.0 -0.1 0.0 -0.2 -0.1 0.0 | -0.2 -0.3 -0.1 -0.2 -0.4 -0.3 -0.5 -0.4 -0.2 -0.5 | -0.7 -0.6 -0.4 -0.8 -0.6 -0.9 -1.1 -0.8 -1.0 -1.2 | -0.9 -1.3 -1.1 -1.5 -1.2 -1.6 -1.4 -1.8 -1.5 -1.3 | -1.7 -1.5 -1.9 -1.6 -2.0 -1.8 -1.5 -1.9 -2.1 -1.7 | -2.0 -2.2 -1.8 -2.1 -2.3 -1.9 -2.2 -2.4 -2.0 -2.3 -2.5
0.1 0.1 0.0 0.1 0.2 0.1 0.0 0.2 0.1 0.3 | 0.2 0.1 0.3 0.4 0.2 0.5 0.3 0.6 0.4 0.7 | 0.5 0.8 0.6 0.9 0.7 1.0 0.8 1.1 0.9 1.2 | 1.0 1.3 1.1 1.4 1.2 1.5 1.3 1.6 1.4 1.7 | 1.5 1.8 1.6 1.9 1.7 2.0 1.8 2.1 1.9 2.2 | 2.0 2.3 2.1 2.4 2.2 2.5 2.3 2.6 2.4 2.7 2.5
0.0 0.1 0.0 0.0 0.1 0.2 0.1 0.0 0.2 0.3 | 0.2 0.4 0.3 0.5 0.4 0.6 0.5 0.7 0.9 0.8 | 1.0 0.8 1.1 1.3 1.0 1.4 1.6 1.3 1.7 2.0 | 1.8 2.2 2.5 2.1 2.6 2.9 2.5 3.0 3.3 2.9 | 3.2 3.6 3.3 3.8 4.1 3.6 4.0 4.4 3.9 4.6 | 5.0 5.3 5.5 5.2 4.6 4.9 4.3 4.7 4.1 4.4 4.0
-0.1 0.0 -0.1 0.0 0.1 -0.1 0.0 0.1 -0.1 -0.2 | 0.0 -0.1 -0.3 -0.1 -0.2 -0.4 -0.2 -0.5 -0.3 -0.6 | -0.4 -0.7 -0.5 -0.8 -0.6 -0.9 -0.7 -1.0 -0.8 -1.1 | -0.9 -1.2 -1.0 -1.3 -1.1 -1.4 -1.2 -1.5 -1.3 -1.6 | -1.4 -1.7 -1.5 -1.8 -1.6 -1.9 -1.7 -2.0 -1.8 -2.1 | -1.9 -2.2 -2.0 -2.3 -2.1 -2.4 -2.2 -2.5 -2.3 -2.6 -2.4
0.1 0.0 0.1 0.1 0.0 0.2 0.1 0.0 0.2 0.1 | 0.3 0.1 0.2 0.4 0.2 0.3 0.5 0.3 0.4 0.6 | 0.4 0.5 0.7 0.5 0.6 0.8 0.6 0.7 0.9 0.7 | 0.8 1.0 0.8 0.9 1.1 0.9 1.0 1.2 1.0 1.1 | 1.3 1.1 1.2 1.4 1.2 1.3 1.5 1.3 1.4 1.6 | 1.4 1.5 1.7 1.5 1.6 1.8 1.6 1.7 1.9 1.7 1.8
0.0 0.1 0.1 0.0 0.1 0.0 0.2 0.1 0.0 0.2 | 0.1 0.3 0.2 0.0 0.3 0.4 0.2 0.5 0.3 0.6 | 0.8 0.5 0.9 0.7 1.0 0.8 1.2 0.9 1.3 1.5 | 1.2 1.6 1.9 1.5 2.0 2.3 1.9 2.4 2.7 2.3 | 2.8 3.1 2.7 3.2 3.5 3.0 3.4 3.0 2.6 3.1 | 2.7 2.3 2.8 2.4 2.0 2.5 2.1 1.7 2.2 1.8 1.4
0.0 0.0 0.1 0.2 0.1 0.0 0.1 0.2 0.3 0.2 | 0.4 0.3 0.5 0.4 0.6 0.5 0.7 0.8 0.6 0.9 | 1.0 0.8 1.1 1.2 1.0 1.3 1.4 1.2 1.5 1.7 | 1.5 1.8 2.0 1.8 2.1 2.4 2.2 2.5 2.8 2.6 | 2.9 3.2 3.0 3.3 3.6 3.4 3.7 3.3 3.6 3.9 | 3.5 3.8 4.1 3.7 4.0 4.3 4.6 4.9 5.3 5.0 4.6
-0.1 0.0 0.0 -0.1 0.0 0.1 -0.1 0.0 -0.2 -0.1 | 0.0 -0.2 -0.1 -0.3 -0.2 0.0 -0.3 -0.1 -0.4 -0.2 | -0.5 -0.3 -0.1 -0.4 -0.6 -0.3 -0.5 -0.7 -0.4 -0.6 | -0.8 -0.5 -0.7 -0.9 -0.6 -0.8 -1.0 -0.7 -0.9 -1.1 | -0.8 -1.0 -1.2 -0.9 -1.1 -1.3 -1.0 -1.2 -1.4 -1.1 | -1.3 -1.5 -1.2 -1.4 -1.6 -1.3 -1.5 -1.7 -1.4 -1.6 -1.8
0.1 0.2 0.1 0.4 0.6 0.8 0.7 0.8 0.7 0.5 | 0.4 0.5 0.3 0.6 0.4 0.7 0.5 0.8 0.6 0.9 | 0.7 1.0 0.8 1.1 0.9 1.2 1.0 1.4 1.1 1.5 | 1.7 2.0 1.8 2.2 2.5 2.2 2.6 2.3 2.7 3.0 | 2.8 3.2 2.9 3.4 3.8 4.1 4.4 4.0 3.6 3.9 | 3.5 3.8 3.3 3.6 3.1 3.4 3.0 3.3 2.8 3.1 2.6
0.0 -0.1 0.0 0.1 0.0 -0.1 0.0 0.1 0.0 -0.2 | 0.0 0.1 -0.1 -0.3 -0.1 0.0 -0.2 -0.4 -0.2 0.0 | -0.3 -0.5 -0.2 0.0 -0.4 -0.6 -0.3 -0.1 -0.5 -0.7 | -0.4 -0.2 -0.6 -0.8 -0.5 -0.3 -0.7 -0.9 -0.6 -0.4 | -0.8 -1.0 -0.7 -0.5 -0.9 -1.1 -0.8 -0.6 -1.0 -1.2 | -0.9 -0.7 -1.1 -1.3 -1.0 -0.8 -1.2 -1.4 -1.1 -0.9 -1.3
0.0 0.0 -0.1 -0.1 0.0 -0.2 -0.1 -0.3 -0.2 -0.1 | -0.3 -0.4 -0.2 -0.5 -0.3 -0.6 -0.8 -0.5 -0.7 -0.9 | -0.6 -0.8 -1.0 -0.7 -0.9 -1.1 -1.3 -1.0 -1.2 -1.4 | -1.1 -1.3 -1.6 -1.4 -1.8 -2.1 -1.7 -2.0 -2.4 -2.1 | -2.5 -2.8 -2.4 -2.7 -3.0 -2.6 -2.9 -3.2 -2.8 -3.1 | -3.4 -3.0 -3.3 -3.6 -3.2 -3.5 -3.8 -3.4 -3.7 -4.0 -3.6
0.1 0.1 0.0 0.1 0.2 0.1 0.0 0.1 0.2 0.1 | 0.3 0.2 0.1 0.4 0.3 0.5 0.4 0.6 0.5 0.7 | 0.6 0.8 0.7 0.9 0.8 1.0 0.9 1.1 1.0 1.2 | 1.4 1.2 1.5 1.7 1.5 1.8 2.0 1.8 2.1 2.3 | 2.1 2.4 2.6 2.3 2.6 2.8 2.5 2.8 3.0 2.7 | 3.0 3.2 2.9 3.1 3.3 3.0 3.2 3.4 3.1 3.3 3.5
0.0 0.0 0.1 -0.1 0.0 0.1 0.0 -0.1 0.0 0.1 | -0.1 0.0 0.2 0.1 -0.1 0.2 0.4 0.3 0.5 0.4 | 0.6 0.5 0.8 1.0 1.4 1.9 2.9 1.8 1.2 1.6 | 2.1 1.5 1.0 1.4 0.8 1.2 0.6 1.0 0.4 0.8 | 0.2 0.6 0.0 0.4 -0.2 0.2 -0.4 0.0 -0.6 -0.2 | -0.8 -0.4 -1.0 -0.6 -1.2 -0.8 -1.4 -1.0 -1.6 -1.2 -1.8
-0.1 0.0 0.1 0.0 -0.1 0.0 0.1 0.2 0.0 -0.1 | 0.1 0.2 0.0 -0.2 0.0 0.3 0.1 -0.1 0.2 0.4 | 0.1 -0.2 0.3 0.5 0.2 -0.3 0.1 0.4 0.6 0.2 | -0.2 0.3 0.6 0.1 -0.3 0.2 0.5 0.0 -0.4 0.1 | 0.4 -0.1 -0.5 0.0 0.3 -0.2 -0.6 -0.1 0.2 -0.3 | -0.7 -0.2 0.1 -0.4 -0.8 -0.3 0.0 -0.5 -0.9 -0.4 -0.1
0.0 0.1 0.0 0.1 0.2 0.0 0.1 0.2 0.1 0.3 | 0.2 0.0 0.3 0.2 0.4 0.3 0.1 0.5 0.4 0.6 | 0.5 0.3 0.7 0.6 0.8 0.7 0.5 0.9 0.8 1.0 | 0.9 0.7 1.1 1.0 1.2 1.1 0.9 1.3 1.2 1.4 | 1.3 1.1 1.5 1.4 1.6 1.5 1.3 1.7 1.6 1.8 | 1.7 1.5 1.9 1.8 2.0 1.9 1.7 2.1 2.0 2.2 2.1
0.1 0.0 0.1 0.2 0.1 0.0 0.2 0.1 0.3 0.2 | 0.1 0.3 0.4 0.2 0.5 0.4 0.6 0.5 0.7 0.6 | 0.8 1.0 0.9 1.1 1.0 1.2 1.4 1.3 1.5 1.4 | 1.6 1.9 1.7 2.0 2.3 2.1 2.4 2.2 2.5 2.8 | 2.6 2.9 3.2 3.0 3.3 3.1 3.4 3.7 3.5 3.8 | 3.6 3.9 4.2 4.0 4.3 4.1 4.4 4.7 4.5 4.8 4.6
0.0 -0.1 0.0 0.0 0.1 0.0 -0.1 0.0 0.1 0.0 | -0.2 -0.1 0.0 -0.3 -0.2 -0.1 -0.4 -0.3 -0.2 -0.5 | -0.4 -0.3 -0.6 -0.5 -0.4 -0.7 -0.6 -0.5 -0.8 -0.7 | -0.6 -0.9 -0.8 -0.7 -1.0 -0.9 -0.8 -1.1 -1.0 -0.9 | -1.2 -1.1 -1.0 -1.3 -1.2 -1.1 -1.4 -1.3 -1.2 -1.5 | -1.4 -1.3 -1.6 -1.5 -1.4 -1.7 -1.6 -1.5 -1.8 -1.7 -1.6
0.1 0.0 0.0 0.1 0.0 0.1 0.2 0.0 0.1 0.0 | 0.2 0.1 0.3 0.2 0.0 0.3 0.1 0.4 0.2 0.0 | 0.3 0.5 0.2 0.4 0.6 0.3 0.5 0.7 0.4 0.6 | 0.8 0.5 0.7 0.9 0.6 0.8 1.0 0.7 0.9 1.1 | 0.8 1.0 1.2 0.9 1.1 1.3 1.0 1.2 1.4 1.1 | 1.3 1.5 1.2 1.4 1.6 1.3 1.5 1.7 1.4 1.6 1.8
0.0 0.0 0.1 0.0 0.1 0.0 0.1 0.2 0.1 0.0 | 0.2 0.1 0.3 0.2 0.4 0.3 0.5 0.4 0.3 0.6 | 0.5 0.7 0.6 0.8 0.7 0.9 0.8 1.0 1.2 1.1 | 1.3 1.5 1.4 1.6 1.8 1.7 1.9 2.1 2.0 2.2 | 2.4 2.3 2.6 2.8 2.7 2.9 3.1 3.0 3.2 3.4 | 3.3 3.5 3.7 3.6 3.8 4.0 3.9 4.1 4.3 4.2 4.4
-0.1 0.0 -0.1 -0.2 -0.1 0.0 -0.2 -0.1 -0.3 -0.2 | -0.1 -0.3 -0.4 -0.2 -0.5 -0.4 -0.6 -0.5 -0.7 -0.6 | -0.8 -0.7 -0.9 -1.1 -1.0 -1.2 -1.1 -1.3 -1.5 -1.4 | -1.6 -1.8 -1.7 -1.9 -2.1 -2.0 -2.2 -2.4 -2.3 -2.5 | -2.7 -2.6 -2.8 -3.0 -2.9 -3.1 -3.3 -3.2 -3.4 -3.6 | -3.5 -3.7 -3.9 -3.8 -4.0 -4.2 -4.1 -4.3 -4.5 -4.4 -4.6
0.0 -0.1 0.0 -0.1 -0.2 -0.1 0.0 -0.2 -0.1 -0.3 | -0.2 -0.4 -0.3 -0.5 -0.4 -0.6 -0.8 -0.7 -0.9 -1.1 | -1.0 -1.2 -1.4 -1.3 -1.5 -1.7 -1.6 -1.9 -2.1 -2.0 | -2.3 -2.6 -2.4 -2.8 -3.1 -2.9 -3.4 -3.8 -4.2 -4.7 | -4.3 -3.9 -4.2 -3.8 -4.1 -3.7 -4.0 -3.6 -3.9 -3.5 | -3.8 -3.4 -3.7 -3.3 -3.6 -3.2 -3.5 -3.1 -3.4 -3.0 -3.3
0.1 0.0 0.0 -0.1 0.0 0.1 0.0 -0.1 0.0 0.1 | -0.1 0.0 0.1 -0.2 -0.1 0.0 -0.3 -0.2 -0.1 -0.4 | -0.3 -0.2 -0.5 -0.4 -0.3 -0.6 -0.5 -0.4 -0.7 -0.6 | -0.5 -0.8 -0.7 -0.6 -0.9 -0.8 -0.7 -1.0 -0.9 -0.8 | -1.1 -1.0 -0.9 -1.2 -1.1 -1.0 -1.3 -1.2 -1.1 -1.4 | -1.3 -1.2 -1.5 -1.4 -1.3 -1.6 -1.5 -1.4 -1.7 -1.6 -1.5
0.0 0.1 0.0 0.0 0.1 0.0 -0.1 0.0 0.1 -0.1 | -0.2 -0.1 -0.3 -0.5 -0.4 -0.6 -0.8 -1.1 -1.3 -1.2 | -1.4 -1.2 -1.0 -1.3 -1.1 -0.9 -1.2 -1.0 -0.8 -1.1 | -0.9 -1.2 -1.4 -1.1 -1.3 -1.5 -1.2 -1.4 -1.6 -1.3 | -1.5 -1.7 -1.4 -1.6 -1.8 -1.5 -1.7 -1.9 -1.6 -1.8 | -2.0 -1.7 -1.9 -2.1 -1.8 -2.0 -2.2 -1.9 -2.1 -2.3 -2.0
0.1 0.1 0.0 0.1 0.0 0.1 0.2 0.1 0.0 0.2 | 0.1 0.3 0.2 0.1 0.3 0.2 0.4 0.3 0.2 0.5 | 0.4 0.3 0.6 0.5 0.4 0.7 0.6 0.5 0.8 0.7 | 0.6 0.9 0.8 0.7 1.0 0.9 0.8 1.1 1.0 0.9 | 1.2 1.1 1.0 1.3 1.2 1.1 1.4 1.3 1.2 1.5 | 1.4 1.3 1.6 1.5 1.4 1.7 1.6 1.5 1.8 1.7 1.6
0.0 -0.5 -0.3 -0.2 0.0 -0.1 0.0 -0.1 -0.2 -0.1 | -0.3 -0.2 -0.4 -0.3 -0.5 -0.7 -0.6 -0.8 -1.0 -0.9 | -1.1 -1.3 -1.2 -1.4 -1.6 -1.5 -1.7 -1.9 -1.8 -2.0 | -2.2 -2.1 -2.3 -2.5 -2.4 -2.6 -2.8 -2.7 -2.9 -3.1 | -3.0 -3.3 -3.6 -3.4 -3.8 -4.1 -3.9 -4.3 -4.6 -4.4 | -4.8 -5.0 -5.2 -5.3 -4.9 -4.6 -4.8 -4.5 -4.9 -4.7 -4.8
0.1 0.0 0.0 0.1 0.0 -0.1 0.1 0.0 -0.1 0.0 | 0.1 -0.1 0.0 0.2 -0.1 0.1 0.3 0.0 0.2 0.4 | 0.1 0.3 0.5 0.2 0.4 0.6 0.3 0.5 0.7 0.4 | 0.6 0.8 0.5 0.7 0.9 0.6 0.8 1.0 0.7 0.9 | 1.1 0.8 1.0 1.2 0.9 1.1 1.3 1.0 1.2 1.4 | 1.1 1.3 1.5 1.2 1.4 1.6 1.3 1.5 1.7 1.4 1.6
0.0 -0.1 0.0 -0.1 0.0 -0.2 -0.1 0.0 -0.2 -0.1 | -0.3 -0.2 -0.4 -0.3 -0.5 -0.4 -0.6 -0.5 -0.7 -0.6 | -0.8 -0.7 -0.9 -0.8 -1.0 -0.9 -1.1 -1.0 -1.2 -1.1 | -1.4 -1.6 -1.5 -1.8 -2.0 -1.9 -2.2 -2.4 -2.3 -2.6 | -2.8 -2.7 -3.0 -3.2 -3.1 -3.4 -3.6 -3.5 -3.8 -4.0 | -3.9 -4.1 -4.3 -4.2 -4.4 -4.6 -4.5 -4.7 -4.9 -4.8 -5.0
0.0 0.1 0.0 0.1 0.2 0.1 0.0 0.1 0.2 0.1 | 0.3 0.2 0.1 0.3 0.4 0.2 0.4 0.5 0.3 0.5 | 0.6 0.4 0.6 0.7 0.5 0.7 0.8 0.6 0.8 0.9 | 0.7 0.9 1.0 0.8 1.0 1.1 0.9 1.1 1.2 1.0 | 1.2 1.3 1.1 1.3 1.4 1.2 1.4 1.5 1.3 1.5 | 1.6 1.4 1.6 1.7 1.5 1.7 1.8 1.6 1.8 1.9 1.7
-0.1 0.0 0.1 0.0 -0.1 0.0 0.1 0.0 -0.1 -0.2 | 0.0 -0.1 -0.3 -0.2 -0.4 -0.3 -0.5 -0.4 -0.6 -0.5 | -0.7 -0.6 -0.8 -0.7 -0.9 -0.8 -1.0 -0.9 -1.1 -1.0 | -1.2 -1.1 -1.3 -1.2 -1.4 -1.3 -1.5 -1.4 -1.6 -1.5 | -1.7 -1.6 -1.8 -1.7 -1.9 -1.8 -2.0 -1.9 -2.1 -2.0 | -2.2 -2.1 -2.3 -2.2 -2.4 -2.3 -2.5 -2.4 -2.6 -2.5 -2.7
0.0 0.0 0.1 0.0 0.0 -0.1 0.0 0.1 0.0 -0.1 | -0.2 -0.1 0.0 -0.2 -0.3 -0.2 -0.4 -0.3 -0.5 -0.7 | -0.6 -0.8 -0.7 -0.9 -1.1 -1.0 -1.2 -1.4 -1.3 -1.5 | -1.7 -1.6 -1.8 -2.0 -1.9 -2.1 -2.3 -2.2 -2.4 -2.6 | -2.5 -2.7 -2.9 -2.8 -3.0 -3.2 -3.1 -3.3 -3.5 -3.4 | -3.6 -3.8 -3.7 -3.9 -4.1 -4.0 -4.2 -4.4 -4.3 -4.5 -4.7
0.1 0.1 0.0 0.1 0.0 0.1 0.2 0.1 0.0 0.1 | 0.0 0.2 0.1 -0.1 0.1 0.0 -0.2 0.0 -0.1 -0.3 | -0.1 -0.2 -0.4 -0.2 -0.3 -0.5 -0.3 -0.4 -0.6 -0.4 | -0.5 -0.7 -0.5 -0.6 -0.8 -0.6 -0.7 -0.9 -0.7 -0.8 | -1.0 -0.8 -0.9 -1.1 -0.9 -1.0 -1.2 -1.0 -1.1 -1.3 | -1.1 -1.2 -1.4 -1.2 -1.3 -1.5 -1.3 -1.4 -1.6 -1.4 -1.5
-0.1 0.0 -0.1 -0.2 -0.1 0.0 -0.1 -0.2 -0.1 -0.3 | -0.2 -0.4 -0.3 -0.5 -0.4 -0.6 -0.5 -0.7 -0.6 -0.8 | -0.7 -0.9 -0.8 -1.0 -0.9 -1.1 -1.0 -1.2 -1.1 -1.3 | -1.5 -1.4 -1.6 -1.8 -1.7 -1.9 -2.1 -2.0 -2.2 -2.4 | -2.3 -2.5 -2.7 -2.6 -2.8 -3.0 -2.9 -3.1 -3.3 -3.2 | -3.4 -3.6 -3.5 -3.7 -3.9 -3.8 -4.0 -4.2 -4.1 -4.3 -4.5
0.0 0.1 0.1 0.0 0.1 0.0 0.0 0.1 -0.1 0.0 | 0.1 -0.1 0.0 0.2 -0.1 0.1 -0.2 0.0 0.1 -0.3 | -0.1 0.0 -0.4 -0.2 -0.1 -0.5 -0.3 -0.2 -0.6 -0.4 | -0.3 -0.7 -0.5 -0.4 -0.8 -0.6 -0.5 -0.9 -0.7 -0.6 | -1.0 -0.8 -0.7 -1.1 -0.9 -0.8 -1.2 -1.0 -0.9 -1.3 | -1.1 -1.0 -1.4 -1.2 -1.1 -1.5 -1.3 -1.2 -1.6 -1.4 -1.3
0.1 0.0 0.1 0.1 0.0 0.2 0.1 0.1 0.2 0.1 | 0.2 0.3 0.2 0.3 0.4 0.3 0.5 0.4 0.6 0.5 | 0.7 0.6 0.8 0.7 0.9 0.8 1.0 0.9 1.1 1.0 | 1.2 1.4 1.3 1.5 1.7 1.6 1.8 2.0 1.9 2.1 | 2.3 2.2 2.4 2.6 2.5 2.7 2.9 2.8 3.0 3.2 | 3.1 3.3 3.5 3.4 3.6 3.8 3.7 3.9 4.1 4.0 3.8
0.0 -0.1 0.0 -0.1 -0.2 0.0 -0.1 -0.2 -0.1 0.0 | -0.2 -0.3 -0.1 -0.3 -0.4 -0.2 -0.5 -0.6 -0.4 -0.7 | -0.8 -0.6 -0.9 -1.0 -0.8 -1.1 -1.2 -1.0 -1.3 -1.4 | -1.2 -1.5 -1.6 -1.4 -1.7 -1.8 -1.6 -1.9 -2.0 -1.8 | -2.1 -2.2 -2.0 -2.3 -2.4 -2.2 -2.5 -2.6 -2.4 -2.7 | -2.8 -2.6 -2.9 -3.0 -2.8 -3.1 -3.2 -3.0 -3.3 -3.4 -3.2
0.0 0.1 0.0 0.2 0.1 0.0 0.2 0.1 0.0 0.3 | 0.4 0.6 0.9 1.3 1.6 1.5 1.2 0.9 0.7 0.8 | 0.6 0.7 0.5 0.6 0.4 0.5 0.3 0.4 0.2 0.3 | 0.1 0.2 0.0 0.1 -0.1 0.0 -0.2 -0.1 -0.3 -0.2 | -0.4 -0.3 -0.5 -0.4 -0.6 -0.5 -0.7 -0.6 -0.8 -0.7 | -0.9 -0.8 -1.0 -0.9 -1.1 -1.0 -1.2 -1.1 -1.3 -1.2 -1.4
-0.1 0.0 0.0 0.1 0.0 -0.1 0.1 0.0 -0.1 0.0 | 0.1 -0.1 0.0 0.2 0.0 -0.2 0.1 0.3 0.1 -0.1 | 0.2 0.4 0.2 0.0 0.3 0.5 0.3 0.1 0.4 0.6 | 0.4 0.2 0.5 0.7 0.5 0.3 0.6 0.8 0.6 0.4 | 0.7 0.9 0.7 0.5 0.8 1.0 0.8 0.6 0.9 1.1 | 0.9 0.7 1.0 1.2 1.0 0.8 1.1 1.3 1.1 0.9 1.2
0.0 -0.1 -0.2 -0.1 0.0 -0.2 -0.1 -0.3 -0.2 -0.4 | -0.5 -0.7 -0.9 -1.2 -1.6 -2.0 -2.5 -1.9 -1.5 -1.8 | -1.4 -1.7 -1.3 -1.6 -1.2 -1.5 -1.8 -1.4 -1.7 -2.0 | -1.6 -1.9 -2.2 -1.8 -2.1 -2.4 -2.0 -2.3 -2.6 -2.2 | -2.5 -2.8 -2.4 -2.7 -3.0 -2.6 -2.9 -3.2 -2.8 -3.1 | -3.4 -3.0 -3.3 -3.6 -3.2 -3.5 -3.8 -3.4 -3.7 -4.0 -3.6
0.0 -0.1 0.0 0.0 -0.1 0.0 -0.1 -0.2 -0.1 0.0 | -0.2 -0.3 -0.2 -0.4 -0.5 -0.7 -0.9 -1.2 -1.5 -1.8 | -2.1 -2.4 -2.2 -2.6 -2.9 -3.2 -3.0 -3.5 -3.8 -4.1 | -4.0 -4.5 -4.6 -4.8 -4.4 -3.9 -3.5 -3.8 -3.2 -2.9 | -3.1 -2.6 -2.8 -2.4 -2.7 -2.3 -2.5 -2.1 -2.4 -2.0 | -2.3 -1.9 -2.2 -1.8 -2.1 -1.7 -2.0 -1.6 -1.9 -1.5 -1.8
0.0 0.0 0.1 -0.1 0.0 0.0 -0.1 -0.2 -0.1 -0.3 | -0.2 -0.4 -0.3 -0.5 -0.4 -0.6 -0.5 -0.7 -0.6 -0.8 | -0.7 -0.6 -0.8 -0.9 -0.7 -1.0 -1.1 -0.9 -1.2 -1.3 | -1.1 -1.4 -1.5 -1.3 -1.6 -1.7 -1.5 -1.8 -1.9 -1.7 | -2.0 -2.1 -1.9 -2.2 -2.3 -2.1 -2.4 -2.5 -2.3 -2.6 | -2.7 -2.5 -2.8 -2.9 -2.7 -3.0 -3.1 -2.9 -3.2 -3.3 -3.1
0.0 0.1 0.1 0.2 0.0 0.1 0.2 0.0 0.1 0.2 | 0.1 0.2 0.3 0.1 0.2 0.3 0.2 0.4 0.3 0.2 | 0.4 0.3 0.5 0.4 0.3 0.5 0.6 0.4 0.6 0.7 | 0.5 0.7 0.8 0.6 0.8 0.9 0.7 0.9 1.0 0.8 | 1.0 1.1 0.9 1.1 1.2 1.0 1.2 1.3 1.1 1.3 | 1.4 1.2 1.4 1.5 1.3 1.5 1.6 1.4 1.6 1.7 1.5
0.0 0.0 -0.1 0.0 0.1 0.0 -0.1 -0.2 0.0 0.1 | -0.1 -0.3 -0.1 -0.2 -0.4 -0.3 -0.5 -0.4 -0.6 -0.8 | -0.7 -0.9 -1.1 -1.0 -1.2 -1.4 -1.3 -1.5 -1.7 -1.6 | -1.8 -2.0 -1.9 -2.1 -2.3 -2.2 -2.4 -2.6 -2.5 -2.7 | -2.9 -2.8 -3.0 -3.2 -3.1 -3.3 -3.5 -3.4 -3.6 -3.8 | -3.7 -3.9 -4.1 -4.0 -4.2 -4.4 -4.3 -4.5 -4.7 -4.6 -4.8
0.1 0.0 0.0 0.1 0.1 -0.1 0.0 0.2 0.1 -0.1 | 0.1 0.2 0.0 -0.1 0.1 0.3 0.0 -0.2 0.2 0.4 | 0.1 -0.1 0.3 0.5 0.2 0.0 0.4 0.6 0.3 0.1 | 0.5 0.7 0.4 0.2 0.6 0.8 0.5 0.3 0.7 0.9 | 0.6 0.4 0.8 1.0 0.7 0.5 0.9 1.1 0.8 0.6 | 1.0 1.2 0.9 0.7 1.1 1.3 1.0 0.8 1.2 1.4 1.1
"""


def table(txt):
    rows = [r.replace('|', ' ').split() for r in txt.strip().splitlines()]
    bad = [i + 1 for i, r in enumerate(rows) if len(r) != len(hours)]
    if bad or len(rows) != 50:
        raise ValueError(f"{len(rows)} lignes, longueurs fausses : {bad}")
    return np.array(rows, dtype=float)


d850 = table(t850_offsets)
d500 = table(t500_offsets)
t850_mean = np.array(t850_mean)
t500_mean = np.array(t500_mean)

rr = np.zeros((50, len(hours) - 1))
for m, pts in rr_members.items():
    for step, mm in pts.items():
        rr[m - 1, step - 1] = mm

# --- figure : 740 x 700 px, un seul repère (°C à gauche, échelle décalée à droite) ---
W, H = 740, 700
fig = plt.figure(figsize=(W / 100, H / 100), dpi=100)
ax = fig.add_axes([50 / W, 1 - 600 / H, 640 / W, 600 / H])
ax.set_xlim(0, 360)
ax.set_ylim(-52.857, 32.857)
ax.axis('off')

grid = '#c0c0c0'
for h in range(0, 361, 24):
    ax.axvline(h, color=grid, lw=0.75, zorder=0)
for v in range(30, -50, -5):
    if v == 0:
        ax.axhline(0.24, color='#a0a0a0', lw=0.75, zorder=0)
        ax.axhline(-0.18, color='#a0a0a0', lw=0.75, zorder=0)
    elif v % 10 == 0:
        ax.axhline(v, color=grid, lw=1.5, zorder=0)
    else:
        ax.axhline(v, color=grid, lw=0.75, zorder=0)
ax.plot([0, 360], [-52.8, -52.8], color='black', lw=1.0, clip_on=False, zorder=5)

mk = dict(lw=0.7, marker='+', ms=2.6, mew=0.6)
for k in range(50):
    c = member_colors[k]
    ax.plot(hours, t850_mean + d850[k], color=c, **mk)
    ax.plot(hours, t500_mean + d500[k], color=c, **mk)
for k in range(50):
    ax.plot(hours[1:], rr[k] - 45, color=member_colors[k], **mk)

ax.plot(hours, t850_ctrl, color='black', lw=2.3, zorder=6)
ax.plot(hours, t500_ctrl, color='black', lw=2.3, zorder=6)
ax.plot(hours[1:], np.array(rr_ctrl) - 45, color='black', lw=2.3, zorder=6)
ax.plot(hours, t850_mean, color='#ff0000', lw=3.0, zorder=7)
ax.plot(hours, t500_mean, color='#ff0000', lw=3.0, zorder=7)
ax.plot(hours[1:], np.array(rr_mean) - 45, color='#ff0000', lw=3.0, zorder=7)


def put(x, y, s, **kw):
    fig.text(x / W, 1 - y / H, s, **kw)


for v in range(30, -50, -5):
    y = 230 - 7 * v + 1.5
    put(20, y, str(v), ha='left', va='center', fontsize=7.2)
    put(710, y, str(v + 45), ha='left', va='center', fontsize=7.2)

put(60, 71, 'Temp. 850hPa', ha='left', va='center', fontsize=7.2)
put(60, 246, 'Temp. 500hPa', ha='left', va='center', fontsize=7.2)
put(59, 535, 'Précipitations', ha='left', va='center', fontsize=7.2)

for d, lab in enumerate(days):
    put(50 + d * 640 / 15 + 7, 603, lab, rotation=90, ha='center', va='top', fontsize=7.2)
put(20, 607, '(°C)', ha='left', va='center', fontsize=7.2)
put(700, 607, '(mm)', ha='left', va='center', fontsize=7.2)

# légende
fig.add_artist(Line2D([36 / W, 66 / W], [1 - 639 / H] * 2, color='#ff0000', lw=3.0))
put(75, 639, 'Moyenne des scénarios', ha='left', va='center', fontsize=7.2)
fig.add_artist(Line2D([226 / W, 257 / W], [1 - 639 / H] * 2, color='black', lw=3.0))
put(265, 639, 'Contrôle/Det', ha='left', va='center', fontsize=7.2)
put(372, 652, '50 Perts.', ha='left', va='center', fontsize=7.0)
for j in range(25):
    x0 = 429 + 11 * j
    for row, top in ((0, 645), (1, 651)):
        fig.add_artist(Rectangle((x0 / W, 1 - (top + 5.5) / H), 9.5 / W, 5.5 / H,
                                 transform=fig.transFigure, color=member_colors[25 * row + j], lw=0))
    put(x0 + 4.8, 639.5, f'{j + 1:02d}', ha='center', va='center', fontsize=6.0, weight='bold')
    put(x0 + 4.8, 663, f'{j + 26:02d}', ha='center', va='center', fontsize=6.0, weight='bold')

fig.add_artist(Rectangle((20 / W, 1 - 699 / H), 422 / W, 32 / H, transform=fig.transFigure,
                         fill=False, ec='black', lw=0.9))
put(29, 678, 'Diagramme ensembles ECMWF/CEP 0.25° sur 360h : 40.6N 22.9E',
    ha='left', va='center', fontsize=8.3, weight='bold')
put(29, 691, 'Températures 850hPa et 500hPa (°C) , précipitations (mm)',
    ha='left', va='center', fontsize=7.2)
put(452, 677, 'Ensemble ECMWF/CEP du 19/08/2026 - 00Z', ha='left', va='center', fontsize=7.2)
put(452, 691, 'Copyright 2026 Meteociel.fr - ECMWF', ha='left', va='center',
    fontsize=8.3, weight='bold')

fig.savefig('out.png', dpi=100)
